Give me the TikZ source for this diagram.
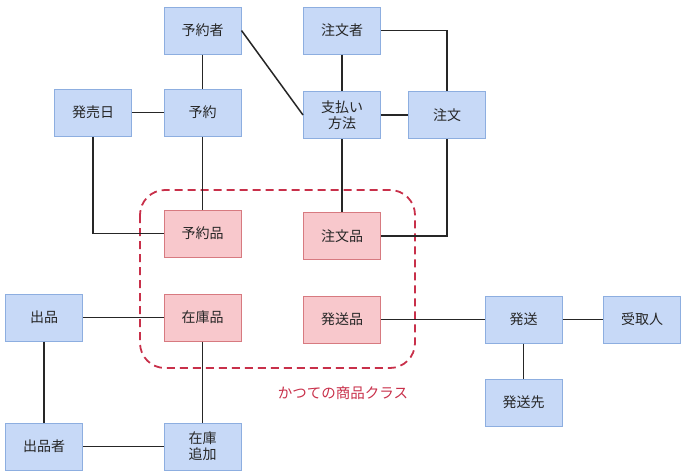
\documentclass[tikz,border=0pt]{standalone}
\usepackage{fontspec}
\setmainfont{Noto Sans CJK JP}
\definecolor{bfill}{HTML}{C7D9F7}
\definecolor{bdraw}{HTML}{8DAEE0}
\definecolor{rfill}{HTML}{F8C8CC}
\definecolor{rdraw}{HTML}{D77A80}
\definecolor{grp}{HTML}{C8304A}
\begin{document}
\begin{tikzpicture}[x=1pt,y=-1pt,
  ent/.style={draw=bdraw,fill=bfill,line width=1pt,minimum width=77pt,minimum height=47pt,inner sep=1pt,align=center,font=\fontsize{14}{16}\selectfont,text=black!85},
  old/.style={ent,draw=rdraw,fill=rfill},
  conn/.style={line width=1.5pt,black!85}]
\useasboundingbox (0,0) rectangle (692,474);
\draw[grp,dashed,line width=1.8pt,dash pattern=on 8pt off 5pt,rounded corners=25pt] (140,190) rectangle (415,368);
\node[text=grp,font=\fontsize{14.5}{16}\selectfont] (lbl) at (343,393) {かつての商品クラス};

\node[ent] (yoyakusha) at (202.5,30.5) {予約者};
\node[ent] (chumonsha) at (342,30.5) {注文者};
\node[ent] (hatsubaibi) at (93,112.5) {発売日};
\node[ent] (yoyaku) at (202.5,112.5) {予約};
\node[ent] (shiharai) at (342,115) {支払い\\方法};
\node[ent] (chumon) at (447,115) {注文};
\node[old] (yoyakuhin) at (202.5,233.5) {予約品};
\node[old] (chumonhin) at (342,236) {注文品};
\node[old] (zaikohin) at (202.5,317.5) {在庫品};
\node[old] (hassohin) at (342,319.5) {発送品};
\node[ent] (shuppin) at (44,317.5) {出品};
\node[ent] (shuppinsha) at (44,446.5) {出品者};
\node[ent] (zaikotsuika) at (202.5,446.5) {在庫\\追加};
\node[ent] (hasso) at (523.5,319.5) {発送};
\node[ent] (uketori) at (642,319.5) {受取人};
\node[ent] (hassosaki) at (523.5,402.5) {発送先};

\draw[conn] (yoyakusha) -- (yoyaku);
\draw[conn] (yoyakusha.east) -- (shiharai.west);
\draw[conn] (hatsubaibi) -- (yoyaku);
\draw[conn] (hatsubaibi.south) |- (yoyakuhin.west);
\draw[conn] (yoyaku) -- (yoyakuhin);
\draw[conn] (chumonsha) -- (shiharai);
\draw[conn] (chumonsha.east) -| (chumon.north);
\draw[conn] (shiharai) -- (chumon);
\draw[conn] (shiharai) -- (chumonhin);
\draw[conn] (chumon.south) |- (chumonhin.east);
\draw[conn] (shuppin) -- (zaikohin);
\draw[conn] (shuppin) -- (shuppinsha);
\draw[conn] (shuppinsha) -- (zaikotsuika);
\draw[conn] (zaikohin) -- (zaikotsuika);
\draw[conn] (hassohin) -- (hasso);
\draw[conn] (hasso) -- (uketori);
\draw[conn] (hasso) -- (hassosaki);
\end{tikzpicture}
\end{document}
